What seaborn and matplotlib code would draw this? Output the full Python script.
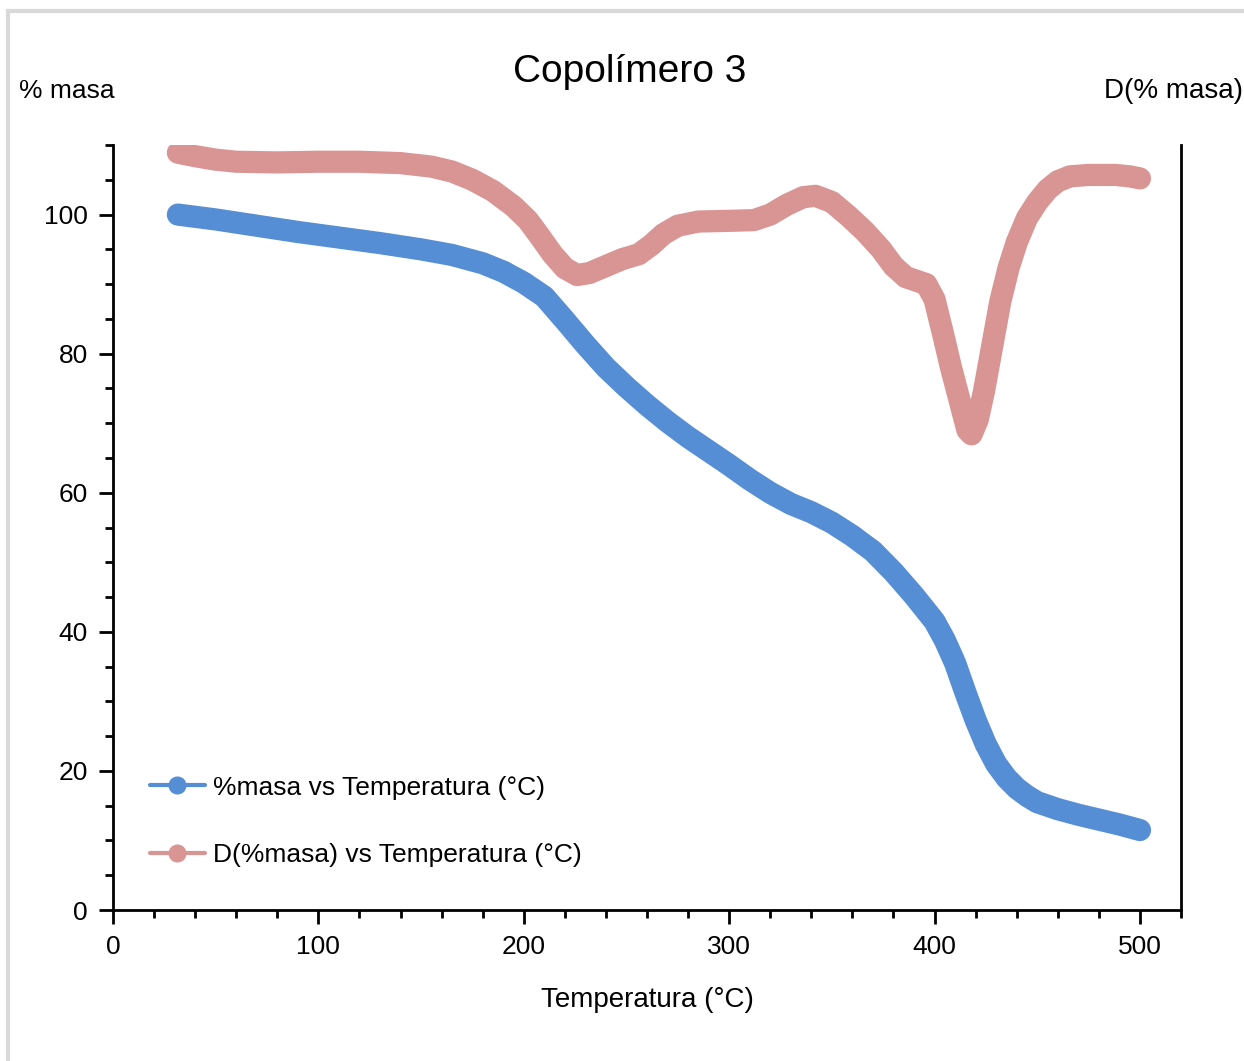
#!/usr/bin/env python3
"""
TGA curve of Copolimero 3: mass % and its derivative vs temperature.
"""
import pandas as pd
import matplotlib
matplotlib.use("Agg")
import matplotlib.pyplot as plt
from matplotlib.lines import Line2D
from matplotlib.patches import Rectangle
from matplotlib.ticker import MultipleLocator
import seaborn as sns

# %masa curve
temp_masa = [31.6, 50, 70, 90, 110, 130, 150, 165, 180, 190, 200, 210, 220,
             230, 240, 250, 260, 270, 280, 290, 300, 310, 320, 330, 340, 350,
             360, 370, 380, 390, 400, 405, 410, 415, 420, 425, 430, 435, 440,
             445, 450, 460, 470, 480, 490, 500]
masa = [100.0, 99.3, 98.4, 97.5, 96.7, 95.9, 95.0, 94.2, 93.0, 91.8, 90.2,
        88.2, 84.8, 81.3, 78.0, 75.2, 72.6, 70.2, 68.0, 66.0, 64.0, 61.9, 60.0,
        58.4, 57.2, 55.7, 53.8, 51.6, 48.6, 45.2, 41.5, 38.8, 35.5, 31.3, 27.3,
        23.8, 21.0, 19.0, 17.5, 16.4, 15.5, 14.5, 13.7, 13.0, 12.3, 11.5]

# D(%masa) curve
temp_d = [31.6, 40, 50, 60, 80, 100, 120, 140, 155, 165, 175, 185, 195, 202,
          208, 214, 220, 226, 232, 240, 248, 256, 262, 268, 275, 285, 300, 312,
          320, 328, 336, 342, 350, 358, 366, 374, 380, 386, 392, 396, 400, 404,
          408, 412, 416, 418, 421, 424, 428, 432, 436, 440, 445, 450, 455, 460,
          466, 475, 488, 495, 500]
d_masa = [108.9, 108.4, 107.9, 107.6, 107.5, 107.6, 107.6, 107.4, 106.9, 106.2,
          105.0, 103.4, 101.2, 99.2, 96.8, 94.3, 92.3, 91.3, 91.6, 92.6, 93.6,
          94.3, 95.6, 97.2, 98.4, 99.0, 99.1, 99.2, 100.0, 101.4, 102.5, 102.7,
          101.8, 99.8, 97.6, 95.0, 92.6, 91.0, 90.4, 90.0, 87.8, 83.0, 78.0,
          73.5, 69.0, 68.4, 70.5, 74.5, 81.0, 87.5, 92.3, 96.0, 99.5, 101.8,
          103.6, 104.8, 105.5, 105.7, 105.7, 105.5, 105.2]

BLUE = "#558ED5"
PINK = "#D99594"
FONT = ["Liberation Sans Narrow", "Liberation Sans", "DejaVu Sans"]

sns.set_style("white")
plt.rcParams["font.family"] = FONT
plt.rcParams["text.color"] = "black"
plt.rcParams["axes.labelcolor"] = "black"
plt.rcParams["xtick.color"] = "black"
plt.rcParams["ytick.color"] = "black"

df_masa = pd.DataFrame({"T": temp_masa, "v": masa})
df_d = pd.DataFrame({"T": temp_d, "v": d_masa})

fig = plt.figure(figsize=(12.44, 10.61), dpi=100)
ax = fig.add_axes([0.0908, 0.1423, 0.8586, 0.7210])

sns.lineplot(data=df_d, x="T", y="v", ax=ax, color=PINK, linewidth=16,
             solid_capstyle="round", solid_joinstyle="round")
sns.lineplot(data=df_masa, x="T", y="v", ax=ax, color=BLUE, linewidth=16,
             solid_capstyle="round", solid_joinstyle="round")

ax.set_xlim(0, 520)
ax.set_ylim(0, 110)
ax.xaxis.set_major_locator(MultipleLocator(100))
ax.xaxis.set_minor_locator(MultipleLocator(20))
ax.yaxis.set_major_locator(MultipleLocator(20))
ax.yaxis.set_minor_locator(MultipleLocator(5))
ax.tick_params(axis="both", which="major", direction="out", length=10, width=2,
               labelsize=19, pad=8)
ax.tick_params(axis="both", which="minor", direction="out", length=6, width=2)
ax.tick_params(axis="x", which="both", bottom=True, top=False)
ax.tick_params(axis="y", which="both", left=True, right=False)

for side in ["left", "bottom", "right"]:
    ax.spines[side].set_visible(True)
    ax.spines[side].set_color("black")
    ax.spines[side].set_linewidth(2)
ax.spines["top"].set_visible(False)

ax.set_xlabel("Temperatura (°C)", fontsize=20, labelpad=20)
ax.set_ylabel("")

handles = [
    Line2D([], [], color=BLUE, linewidth=3, marker="o", markersize=12),
    Line2D([], [], color=PINK, linewidth=3, marker="o", markersize=12),
]
labels = ["%masa vs Temperatura (°C)", "D(%masa) vs Temperatura (°C)"]
ax.legend(handles, labels, loc="lower left", bbox_to_anchor=(0.012, 0.025),
          frameon=False, fontsize=19, handlelength=2.1, handletextpad=0.3,
          labelspacing=1.65)

fig.text(0.506, 0.932, "Copolímero 3", ha="center", va="center", fontsize=28)
fig.text(0.015, 0.914, "% masa", ha="left", va="center", fontsize=19)
fig.text(0.999, 0.914, "D(% masa)", ha="right", va="center", fontsize=20)

# light frame around the chart area
fig.patches.append(Rectangle((8 / 1244, -0.05), 1.1, 1.04 - 11 / 1061 + 0.01,
                             transform=fig.transFigure, fill=False,
                             edgecolor="#D9D9D9", linewidth=3))

plt.savefig("out.png", dpi=100)
plt.close()
